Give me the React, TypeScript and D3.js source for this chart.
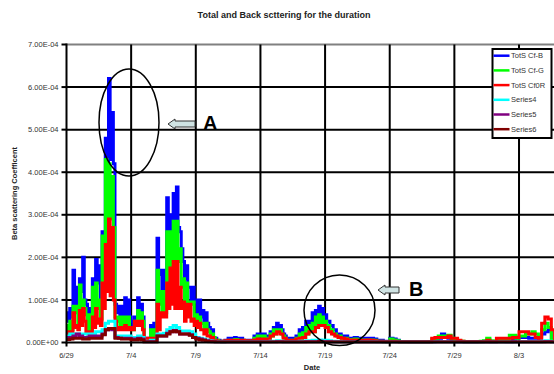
import React from "react";
import * as d3 from "d3";

// Quarter-day samples starting 6/29 (4 values per day, days 0..38).
// Each series has a "peak" reading per quarter day; the busy series also carry
// the low reading reached within that quarter day (where given).
const STEP_DAYS = 0.25;

const totsCfB = [
  0.7, 0.8, 1.7, 1.3,
  1.5, 2.0, 0.9, 0.8,
  1.5, 1.95, 1.8, 2.6,
  4.8, 6.2, 5.4, 0.9,
  0.85, 0.85, 1.05, 1.0,
  0.5, 0.6, 1.05, 0.9,
  0.1, 0.1, 0.4, 0.45,
  2.45, 1.7, 1.7, 3.4,
  3.0, 3.5, 3.65, 2.6,
  1.9, 1.8, 1.3, 1.3,
  1.0, 1.0, 0.75, 0.7,
  0.35, 0.3, 0.1, 0.05,
  0.02, 0.05, 0.1, 0.1,
  0.12, 0.1, 0.1, 0.05,
  0.05, 0.05, 0.15, 0.2,
  0.2, 0.2, 0.15, 0.25,
  0.35, 0.45, 0.4, 0.2,
  0.1, 0.1, 0.1, 0.15,
  0.3, 0.35, 0.5, 0.5,
  0.7, 0.75, 0.85, 0.8,
  0.65, 0.5, 0.4, 0.3,
  0.2, 0.15, 0.15, 0.1,
  0.1, 0.12, 0.1, 0.08,
  0.1, 0.1, 0.1, 0.08,
  0.05, 0.05, 0.03, 0.02,
  0.1, 0.08, 0.05, 0.02,
  0.02, 0.02, 0.01, 0.01,
  0.01, 0.01, 0.01, 0.01,
  0.02, 0.02, 0.05, 0.1,
  0.2, 0.15, 0.1, 0.05,
  0.03, 0.02, 0.02, 0.01,
  0.01, 0.01, 0.01, 0.02,
  0.02, 0.03, 0.05, 0.02,
  0.02, 0.03, 0.05, 0.03,
  0.02, 0.02, 0.05, 0.1,
  0.12, 0.12, 0.12, 0.1,
  0.1, 0.1, 0.1, 0.2,
  0.25, 0.3, 0.05, 0.02,
  0.02,
];
const totsCfBLow = [
  0.5, 0.6, 0.9, 0.9,
  1.2, 1.0, 0.65, 0.65,
  1.2, 1.4, 1.0, 2.0,
  4.0, 4.3, 4.2, 0.7,
  0.6, 0.6, 0.6, 0.6,
  0.35, 0.5, 0.7, 0.6,
  0.05, 0.05, 0.3, 0.3,
  1.6, 1.2, 1.2, 2.5,
  2.6, 2.8, 2.7, 2.2,
  1.5, 1.3, 0.95, 0.95,
  0.65, 0.6, 0.45, 0.45,
  0.25, 0.1, 0.05, 0.03,
  0.02, 0.03, 0.05, 0.05,
  0.07, 0.05, 0.05, 0.03,
  0.03, 0.03, 0.1, 0.15,
  0.15, 0.15, 0.1, 0.2,
  0.3, 0.3, 0.3, 0.15,
  0.05, 0.05, 0.05, 0.1,
  0.2, 0.23, 0.35, 0.4,
  0.45, 0.6, 0.65, 0.6,
  0.5, 0.4, 0.3, 0.2,
];

const totsCfG = [
  0.4, 0.5, 0.85, 0.85,
  1.35, 1.0, 0.65, 0.65,
  1.3, 1.4, 1.0, 2.5,
  4.3, 4.2, 3.9, 0.6,
  0.6, 0.6, 0.6, 0.6,
  0.35, 0.5, 0.75, 0.7,
  0.05, 0.05, 0.3, 0.3,
  1.7, 1.2, 1.2, 2.6,
  2.6, 2.85, 2.85, 2.2,
  1.5, 1.4, 0.95, 0.95,
  0.65, 0.6, 0.45, 0.45,
  0.25, 0.2, 0.05, 0.03,
  0.02, 0.03, 0.05, 0.05,
  0.07, 0.05, 0.05, 0.03,
  0.03, 0.03, 0.1, 0.15,
  0.15, 0.15, 0.1, 0.2,
  0.3, 0.3, 0.3, 0.15,
  0.05, 0.05, 0.05, 0.1,
  0.2, 0.23, 0.35, 0.4,
  0.45, 0.6, 0.65, 0.6,
  0.5, 0.4, 0.3, 0.2,
  0.15, 0.1, 0.1, 0.07,
  0.07, 0.08, 0.07, 0.05,
  0.06, 0.06, 0.06, 0.05,
  0.03, 0.03, 0.02, 0.01,
  0.08, 0.06, 0.04, 0.01,
  0.01, 0.01, 0.01, 0.01,
  0.01, 0.01, 0.01, 0.01,
  0.02, 0.08, 0.1, 0.15,
  0.15, 0.15, 0.17, 0.1,
  0.05, 0.04, 0.03, 0.02,
  0.02, 0.02, 0.02, 0.02,
  0.03, 0.04, 0.1, 0.04,
  0.03, 0.05, 0.08, 0.04,
  0.06, 0.17, 0.17, 0.1,
  0.15, 0.15, 0.2, 0.2,
  0.25, 0.2, 0.15, 0.3,
  0.45, 0.35, 0.05, 0.02,
  0.02,
];
const totsCfGLow = [
  0.25, 0.3, 0.7, 0.4,
  0.75, 0.8, 0.3, 0.3,
  0.6, 0.8, 0.55, 1.4,
  2.3, 2.9, 2.7, 0.5,
  0.35, 0.35, 0.4, 0.35,
  0.3, 0.5, 0.5, 0.5,
  0.03, 0.03, 0.1, 0.1,
  0.9, 0.7, 0.7, 1.4,
  1.75, 1.9, 1.9, 1.3,
  0.95, 0.9, 0.9, 0.55,
  0.5, 0.45, 0.3, 0.3,
  0.15, 0.12, 0.05, 0.03,
  0.02, 0.03, 0.05, 0.05,
  0.07, 0.05, 0.05, 0.03,
  0.03, 0.03, 0.1, 0.15,
  0.1, 0.1, 0.08, 0.15,
  0.2, 0.25, 0.2, 0.1,
  0.05, 0.05, 0.05, 0.08,
  0.1, 0.12, 0.2, 0.25,
  0.25, 0.35, 0.4, 0.4,
  0.35, 0.25, 0.2, 0.15,
];

const totsCf0R = [
  0.25, 0.25, 0.7, 0.4,
  0.75, 0.8, 0.25, 0.25,
  0.6, 0.8, 0.55, 1.4,
  2.3, 2.9, 2.7, 0.5,
  0.35, 0.35, 0.4, 0.35,
  0.35, 0.5, 0.5, 0.5,
  0.1, 0.1, 0.1, 0.1,
  0.9, 0.7, 0.7, 1.4,
  1.75, 1.9, 1.9, 1.3,
  0.95, 0.9, 0.9, 0.55,
  0.5, 0.45, 0.3, 0.3,
  0.15, 0.12, 0.05, 0.03,
  0.03, 0.04, 0.05, 0.05,
  0.05, 0.05, 0.05, 0.04,
  0.04, 0.04, 0.06, 0.08,
  0.08, 0.08, 0.08, 0.15,
  0.2, 0.25, 0.2, 0.1,
  0.05, 0.05, 0.05, 0.08,
  0.1, 0.12, 0.2, 0.25,
  0.25, 0.35, 0.4, 0.4,
  0.35, 0.25, 0.2, 0.15,
  0.12, 0.1, 0.08, 0.06,
  0.06, 0.06, 0.05, 0.05,
  0.05, 0.06, 0.05, 0.04,
  0.03, 0.03, 0.02, 0.02,
  0.03, 0.03, 0.02, 0.01,
  0.01, 0.01, 0.01, 0.01,
  0.01, 0.01, 0.01, 0.01,
  0.01, 0.1, 0.12, 0.12,
  0.12, 0.12, 0.15, 0.1,
  0.1, 0.05, 0.03, 0.02,
  0.02, 0.02, 0.02, 0.02,
  0.02, 0.02, 0.05, 0.02,
  0.02, 0.1, 0.1, 0.1,
  0.1, 0.1, 0.12, 0.12,
  0.25, 0.25, 0.25, 0.2,
  0.2, 0.12, 0.1, 0.45,
  0.6, 0.55, 0.3, 0.1,
  0.05,
];
const totsCf0RLow = [
  0.2, 0.2, 0.35, 0.3,
  0.4, 0.5, 0.2, 0.2,
  0.35, 0.45, 0.4, 0.8,
  1.2, 1.1, 1.0, 0.3,
  0.3, 0.3, 0.3, 0.3,
  0.3, 0.4, 0.4, 0.3,
  0.08, 0.08, 0.08, 0.08,
  0.3, 0.6, 0.6, 0.8,
  0.9, 0.8, 0.8, 0.8,
  0.5, 0.6, 0.5, 0.4,
  0.35, 0.3, 0.2, 0.15,
  0.1, 0.05, 0.03, 0.03,
];

const series4 = [
  0.15, 0.2, 0.2, 0.2,
  0.2, 0.2, 0.2, 0.2,
  0.2, 0.25, 0.25, 0.3,
  0.45, 0.5, 0.5, 0.15,
  0.15, 0.15, 0.15, 0.15,
  0.1, 0.12, 0.15, 0.12,
  0.03, 0.03, 0.05, 0.05,
  0.2, 0.2, 0.22, 0.3,
  0.35, 0.4, 0.35, 0.27,
  0.27, 0.27, 0.25, 0.2,
  0.12, 0.1, 0.08, 0.06,
  0.04, 0.03, 0.02, 0.02,
  0.02, 0.02, 0.02, 0.02,
  0.02, 0.02, 0.02, 0.02,
  0.02, 0.02, 0.02, 0.02,
  0.02, 0.02, 0.02, 0.03,
  0.03, 0.04, 0.03, 0.02,
  0.02, 0.02, 0.02, 0.02,
  0.03, 0.03, 0.04, 0.04,
  0.05, 0.05, 0.06, 0.05,
  0.05, 0.04, 0.03, 0.03,
  0.02, 0.02, 0.02, 0.02,
  0.02, 0.02, 0.02, 0.02,
  0.02, 0.02, 0.02, 0.02,
  0.01, 0.01, 0.01, 0.01,
  0.01, 0.01, 0.01, 0.01,
  0.01, 0.01, 0.01, 0.01,
  0.01, 0.01, 0.01, 0.01,
  0.01, 0.01, 0.02, 0.02,
  0.02, 0.02, 0.02, 0.01,
  0.01, 0.01, 0.01, 0.01,
  0.01, 0.01, 0.01, 0.01,
  0.01, 0.01, 0.01, 0.01,
  0.01, 0.01, 0.01, 0.01,
  0.01, 0.01, 0.01, 0.01,
  0.02, 0.02, 0.02, 0.02,
  0.02, 0.02, 0.02, 0.03,
  0.04, 0.03, 0.02, 0.01,
  0.01,
];

const series5 = [
  0.12, 0.12, 0.15, 0.2,
  0.15, 0.12, 0.12, 0.15,
  0.15, 0.15, 0.15, 0.2,
  0.3, 0.32, 0.3, 0.12,
  0.1, 0.1, 0.1, 0.1,
  0.08, 0.08, 0.1, 0.08,
  0.02, 0.02, 0.02, 0.02,
  0.15, 0.15, 0.15, 0.22,
  0.25, 0.28, 0.25, 0.2,
  0.2, 0.2, 0.18, 0.12,
  0.1, 0.08, 0.06, 0.04,
  0.03, 0.02, 0.01, 0.01,
  0.01, 0.01, 0.01, 0.01,
  0.01, 0.01, 0.01, 0.01,
  0.01, 0.01, 0.01, 0.01,
  0.01, 0.01, 0.01, 0.01,
  0.01, 0.02, 0.02, 0.01,
  0.01, 0.01, 0.01, 0.01,
  0.01, 0.01, 0.02, 0.02,
  0.02, 0.02, 0.03, 0.02,
  0.02, 0.02, 0.01, 0.01,
  0.01, 0.01, 0.01, 0.01,
  0.01, 0.01, 0.01, 0.01,
  0.01, 0.01, 0.01, 0.01,
  0.01, 0.01, 0.01, 0.01,
  0.01, 0.01, 0.01, 0.01,
  0.01, 0.01, 0.01, 0.01,
  0.01, 0.01, 0.01, 0.01,
  0.01, 0.01, 0.01, 0.01,
  0.01, 0.01, 0.01, 0.01,
  0.01, 0.01, 0.01, 0.01,
  0.01, 0.01, 0.01, 0.01,
  0.01, 0.01, 0.01, 0.01,
  0.01, 0.01, 0.01, 0.01,
  0.01, 0.01, 0.01, 0.01,
  0.01, 0.01, 0.01, 0.01,
  0.01, 0.01, 0.01, 0.01,
  0.02, 0.02, 0.01, 0.01,
  0.01,
];

const series6 = [
  0.07, 0.08, 0.1, 0.1,
  0.1, 0.08, 0.08, 0.1,
  0.1, 0.1, 0.1, 0.18,
  0.3, 0.33, 0.33, 0.1,
  0.1, 0.08, 0.08, 0.08,
  0.06, 0.06, 0.08, 0.06,
  0.01, 0.01, 0.01, 0.01,
  0.15, 0.15, 0.15, 0.2,
  0.25, 0.27, 0.25, 0.2,
  0.2, 0.2, 0.17, 0.12,
  0.08, 0.06, 0.05, 0.03,
  0.02, 0.02, 0.01, 0.01,
  0.01, 0.01, 0.01, 0.01,
  0.01, 0.01, 0.01, 0.01,
  0.01, 0.01, 0.01, 0.01,
  0.01, 0.01, 0.01, 0.01,
  0.01, 0.01, 0.01, 0.01,
  0.01, 0.01, 0.01, 0.01,
  0.01, 0.01, 0.01, 0.01,
  0.01, 0.01, 0.02, 0.01,
  0.01, 0.01, 0.01, 0.01,
  0.01, 0.01, 0.01, 0.01,
  0.01, 0.01, 0.01, 0.01,
  0.01, 0.01, 0.01, 0.01,
  0.01, 0.01, 0.01, 0.01,
  0.01, 0.01, 0.01, 0.01,
  0.01, 0.01, 0.01, 0.01,
  0.01, 0.01, 0.01, 0.01,
  0.01, 0.01, 0.01, 0.01,
  0.01, 0.01, 0.01, 0.01,
  0.01, 0.01, 0.01, 0.01,
  0.01, 0.01, 0.01, 0.01,
  0.01, 0.01, 0.01, 0.01,
  0.01, 0.01, 0.01, 0.01,
  0.01, 0.01, 0.01, 0.01,
  0.01, 0.01, 0.01, 0.01,
  0.01, 0.01, 0.01, 0.01,
  0.01, 0.01, 0.01, 0.01,
  0.01,
];

const seriesNames = ["TotS Cf-B", "TotS Cf-G", "TotS Cf0R", "Series4", "Series5", "Series6"];
const seriesColors = ["#0000ff", "#00ff00", "#ff0000", "#00ffff", "#800080", "#800000"];
const seriesPeaks = [totsCfB, totsCfG, totsCf0R, series4, series5, series6];
const seriesLows: (number[] | null)[] = [totsCfBLow, totsCfGLow, totsCf0RLow, null, null, null];

// Date ticks every five days from 6/29
const dateTickDays = [0, 5, 10, 15, 20, 25, 30, 35];
const dateTickLabels = ["6/29", "7/4", "7/9", "7/14", "7/19", "7/24", "7/29", "8/3"];
// Y ticks, values in units of 1E-4
const yTicks = [0, 1, 2, 3, 4, 5, 6, 7];
const yTickLabels = ["0.00E+00", "1.00E-04", "2.00E-04", "3.00E-04", "4.00E-04", "5.00E-04", "6.00E-04", "7.00E-04"];

const W = 554;
const H = 374;
const FONT = "Liberation Sans, Arial, sans-serif";

type Pt = [number, number];

// Peak for the first half of each quarter day, then the low for the second half
function samplePoints(peaks: number[], lows: number[] | null): Pt[] {
  const pts: Pt[] = [];
  peaks.forEach((v, i) => {
    const t = i * STEP_DAYS;
    pts.push([t, v]);
    const lo = lows && i < lows.length ? lows[i] : v;
    pts.push([t + STEP_DAYS / 2, lo]);
  });
  return pts;
}

export default function App() {
  const x = d3.scaleLinear().domain([0, 38]).range([66.5, 557.8]);
  const y = d3.scaleLinear().domain([0, 7]).range([342.5, 44.5]);

  const line = d3
    .line<Pt>()
    .x((p) => x(p[0]))
    .y((p) => y(p[1]))
    .curve(d3.curveStepAfter);

  const plotL = x(0);
  const plotR = W;
  const plotT = y(7);
  const plotB = y(0);

  const legendX = 492.5;
  const legendY = 49;
  const rowH = 14.7;

  const arrow = (tipX: number, tailX: number, cy: number) => {
    const headLen = 7;
    const shaftH = 3;
    const headH = 5;
    return [
      [tipX, cy],
      [tipX + headLen, cy - headH],
      [tipX + headLen, cy - shaftH],
      [tailX, cy - shaftH],
      [tailX, cy + shaftH],
      [tipX + headLen, cy + shaftH],
      [tipX + headLen, cy + headH],
    ]
      .map((p) => p.join(","))
      .join(" ");
  };

  return (
    <svg
      width={W}
      height={H}
      style={{ position: "absolute", left: 0, top: 0, background: "#fff" }}
      fontFamily={FONT}
    >
      <rect x={0} y={0} width={W} height={H} fill="#fff" />
      <text x={284} y={18} textAnchor="middle" fontSize={9} fontWeight="bold" fill="#222">
        Total and Back scttering for the duration
      </text>

      <defs>
        <clipPath id="plotClip">
          <rect x={plotL} y={plotT - 2} width={plotR - plotL} height={plotB - plotT + 3} />
        </clipPath>
      </defs>

      {/* horizontal grid */}
      {yTicks.slice(1, -1).map((t) => (
        <line key={"hg" + t} x1={plotL} x2={plotR} y1={y(t)} y2={y(t)} stroke="#000" strokeWidth={2} />
      ))}
      <line x1={plotL} x2={plotR} y1={plotT} y2={plotT} stroke="#808080" strokeWidth={2} />
      {/* vertical grid */}
      {dateTickDays.slice(1).map((d) => (
        <line key={"vg" + d} x1={x(d)} x2={x(d)} y1={plotT} y2={plotB} stroke="#000" strokeWidth={2} />
      ))}

      {/* series */}
      <g clipPath="url(#plotClip)">
        {seriesPeaks.map((s, i) => (
          <path
            key={seriesNames[i]}
            d={line(samplePoints(s, seriesLows[i])) || ""}
            fill="none"
            stroke={seriesColors[i]}
            strokeWidth={3}
            strokeLinejoin="miter"
          />
        ))}
      </g>

      {/* axes */}
      <line x1={plotL} x2={plotL} y1={plotT - 1} y2={plotB + 1} stroke="#000" strokeWidth={2} />
      <line x1={plotL} x2={plotR} y1={plotB} y2={plotB} stroke="#000" strokeWidth={2} />
      {yTicks.map((t, i) => (
        <g key={"yt" + t}>
          <line x1={plotL - 5} x2={plotL} y1={y(t)} y2={y(t)} stroke="#000" strokeWidth={2} />
          <text x={plotL - 8} y={y(t)} dy="0.35em" textAnchor="end" fontSize={7.5} fill="#333">
            {yTickLabels[i]}
          </text>
        </g>
      ))}
      {dateTickDays.map((d, i) => (
        <g key={"xt" + d}>
          <line x1={x(d)} x2={x(d)} y1={plotB} y2={plotB + 4} stroke="#000" strokeWidth={2} />
          <text x={x(d)} y={358} textAnchor="middle" fontSize={7.5} fill="#333">
            {dateTickLabels[i]}
          </text>
        </g>
      ))}

      <text x={312} y={370} textAnchor="middle" fontSize={7.5} fontWeight="bold" fill="#222">
        Date
      </text>
      <text
        transform={`translate(17, ${(plotT + plotB) / 2}) rotate(-90)`}
        textAnchor="middle"
        fontSize={7.5}
        fontWeight="bold"
        fill="#222"
      >
        Beta scattering Coefficent
      </text>

      {/* annotations */}
      <ellipse cx={129} cy={122.5} rx={30} ry={53.5} fill="none" stroke="#000" strokeWidth={1.5} />
      <polygon points={arrow(168, 195, 124)} fill="#cfe3e3" stroke="#333" strokeWidth={1} />
      <text x={203} y={130} fontSize={20} fontWeight="bold" fill="#000">
        A
      </text>
      <ellipse cx={339.5} cy={310.3} rx={35.5} ry={35.3} fill="none" stroke="#000" strokeWidth={1.5} />
      <polygon points={arrow(378, 399, 290)} fill="#cfe3e3" stroke="#333" strokeWidth={1} />
      <text x={409} y={296} fontSize={20} fontWeight="bold" fill="#000">
        B
      </text>

      {/* legend */}
      <rect x={legendX} y={legendY} width={59} height={89} fill="#fff" stroke="#000" strokeWidth={2} />
      {seriesNames.map((n, i) => {
        const cy = legendY + 6.7 + i * rowH;
        return (
          <g key={"lg" + n}>
            <line x1={legendX + 1} x2={legendX + 17} y1={cy} y2={cy} stroke={seriesColors[i]} strokeWidth={2.5} />
            <text x={legendX + 18.5} y={cy} dy="0.35em" fontSize={7.5} fill="#333">
              {n}
            </text>
          </g>
        );
      })}
    </svg>
  );
}
